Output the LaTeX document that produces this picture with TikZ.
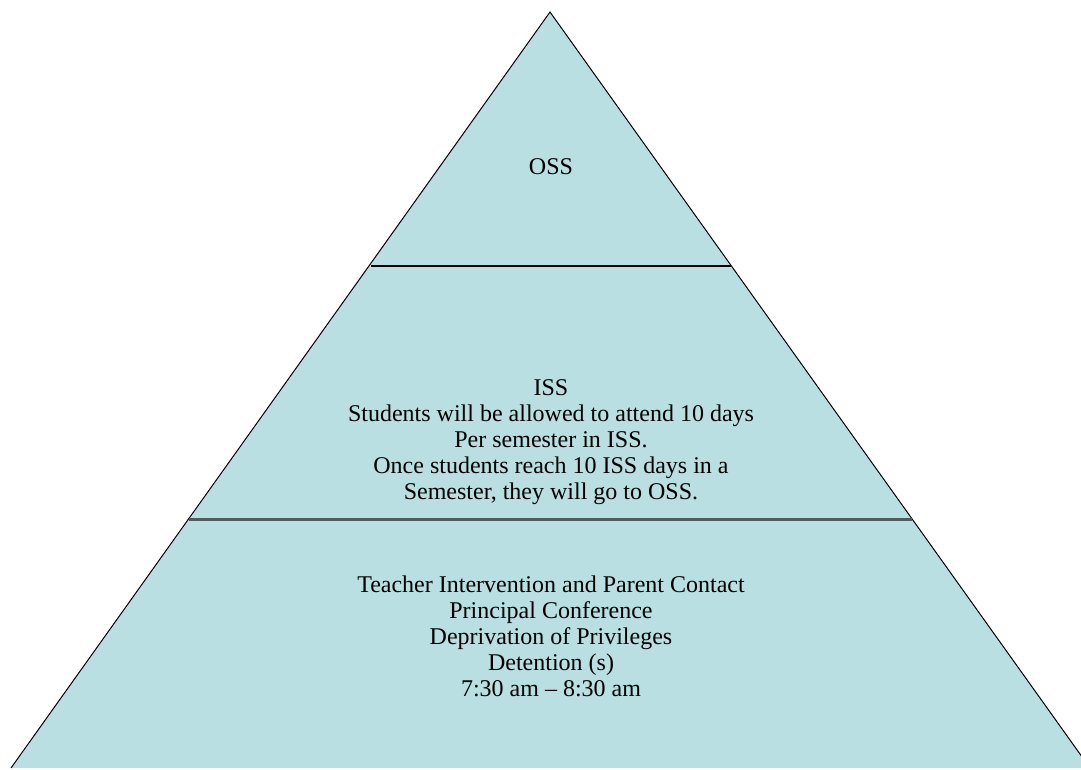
\documentclass[tikz,border=0pt]{standalone}
\usepackage{fontspec}
\setmainfont{Liberation Serif}
\definecolor{pyrfill}{HTML}{B9DFE2}
\definecolor{divgray}{HTML}{4F5B5D}
\tikzset{
  lbl/.style={align=center, inner sep=0pt, font=\fontsize{24}{26}\selectfont},
  edge/.style={draw=black, line width=1pt},
}
\begin{document}
\begin{tikzpicture}[x=1pt,y=-1pt]
\useasboundingbox (0,0) rectangle (1081,769);
\begin{scope}
\clip (0,0) rectangle (1081,769);
\fill[pyrfill] (550,12) -- (11,768) -- (1090,768) -- cycle;
\draw[edge, line join=miter] (11,768) -- (550,12) -- (1090,768);
\coordinate (u1) at (370.5,266);
\coordinate (u2) at (730.5,266);
\coordinate (l1) at (189,519.5);
\coordinate (l2) at (912,519.5);
\draw[black, line width=1.6pt] (u1) -- (u2);
\draw[divgray, line width=2.6pt] (l1) -- (l2);
\end{scope}
\node[lbl] (oss) at (551,167) {OSS};
\node[lbl] (iss) at (551,442) {ISS\\Students will be allowed to attend 10 days\\Per semester in ISS.\\Once students reach 10 ISS days in a\\Semester, they will go to OSS.};
\node[lbl] (base) at (551,636) {Teacher Intervention and Parent Contact\\Principal Conference\\Deprivation of Privileges\\Detention (s)\\7:30 am -- 8:30 am};
\end{tikzpicture}
\end{document}
